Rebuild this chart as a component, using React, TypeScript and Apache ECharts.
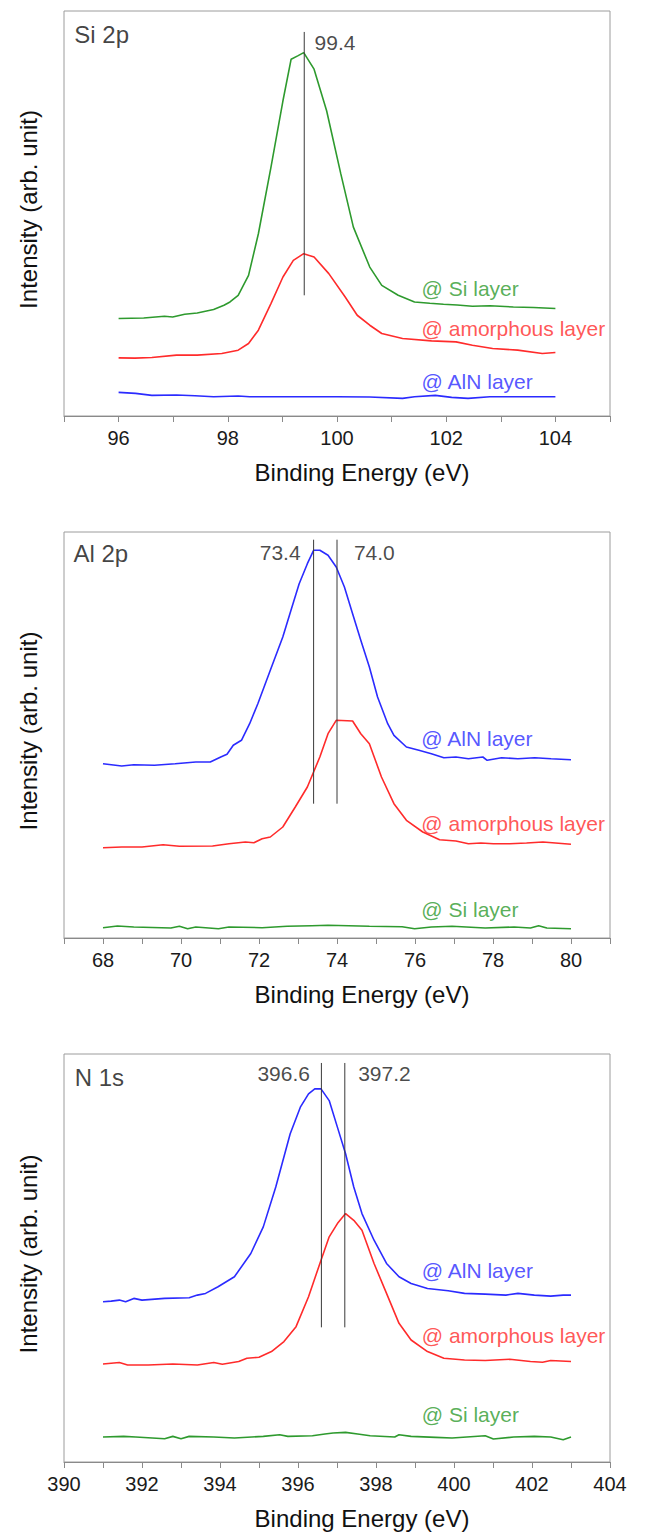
import React, { useEffect, useRef } from "react";
import * as echarts from "echarts";

// ---------- Panel 1: Si 2p (binding energy eV, intensity arb.) ----------
const si2pSiLayer: [number, number][] = [
  [96.0, 97.7], [96.46, 98.3], [96.84, 100], [96.99, 99.3], [97.21, 102], [97.44, 103.3],
  [97.74, 106.7], [97.93, 111], [98.04, 114.3], [98.19, 121], [98.38, 141], [98.56, 182.7],
  [98.79, 249.3], [99.01, 316], [99.16, 357.7], [99.28, 361], [99.39, 364.3], [99.58, 347.7],
  [99.81, 306], [100.07, 242.7], [100.3, 189.3], [100.6, 149.3], [100.82, 131], [101.12, 121],
  [101.42, 114.3], [101.7, 113], [101.95, 112], [102.2, 111.3], [102.48, 110], [102.8, 110.5],
  [103.23, 109.3], [103.6, 108.7], [104.0, 107.7],
];
const si2pAmorphous: [number, number][] = [
  [96.0, 58.3], [96.3, 58], [96.61, 58.7], [97.06, 61], [97.44, 61], [97.89, 62.7], [98.19, 66],
  [98.38, 72.7], [98.56, 86], [98.79, 112.7], [99.01, 139.3], [99.2, 156], [99.39, 162.7],
  [99.58, 159.3], [99.85, 142.7], [100.15, 119.3], [100.37, 101], [100.6, 91], [100.82, 82.7],
  [101.2, 77.7], [101.73, 75.3], [102.18, 74.3], [102.48, 71], [102.85, 67.7], [103.31, 66],
  [103.76, 62.7], [104.0, 63.7],
];
const si2pAlN: [number, number][] = [
  [96.0, 23.7], [96.31, 22.7], [96.61, 20.7], [97.06, 21], [97.4, 20.3], [97.74, 19.3], [98.19, 20],
  [98.4, 19.3], [98.64, 19.3], [99.39, 19.3], [100.0, 19.3], [100.6, 19], [101.2, 17.7],
  [101.42, 19.3], [101.8, 20.7], [102.1, 18.7], [102.4, 17.7], [102.8, 19.3], [103.23, 19.3],
  [104.0, 19.3],
];
const si2pPeaks = [99.4];

// ---------- Panel 2: Al 2p ----------
const al2pAlN: [number, number][] = [
  [68.0, 174.3], [68.48, 172], [68.79, 173.3], [69.32, 172.7], [69.85, 174.3], [70.38, 176],
  [70.75, 176], [71.02, 181], [71.18, 183.7], [71.34, 192.7], [71.55, 197.7], [71.76, 214.3],
  [71.97, 234.3], [72.29, 267.7], [72.61, 301], [72.82, 327.7], [73.03, 354.3], [73.24, 374.3],
  [73.4, 387.7], [73.56, 387.7], [73.77, 382.7], [73.98, 371], [74.19, 351], [74.4, 324.3],
  [74.61, 297.7], [74.83, 271], [75.04, 241], [75.3, 214.3], [75.46, 202.7], [75.78, 191],
  [76.1, 187.7], [76.42, 184.3], [76.74, 180.3], [77.05, 181], [77.37, 179.3], [77.74, 181],
  [77.85, 177.7], [78.22, 180.3], [78.64, 179.3], [79.07, 180.3], [79.49, 179.3], [80.0, 178.3],
];
const al2pAmorphous: [number, number][] = [
  [68.0, 90.3], [68.48, 91], [69.0, 91], [69.54, 93.3], [69.96, 91.7], [70.81, 92], [71.23, 94.3],
  [71.65, 96], [71.87, 95.3], [72.08, 99.3], [72.29, 101], [72.61, 111], [72.93, 131],
  [73.24, 151], [73.56, 181], [73.77, 204.3], [73.98, 217.7], [74.4, 217], [74.61, 204.3],
  [74.83, 194.3], [75.14, 161], [75.46, 134.3], [75.78, 117.7], [76.2, 106], [76.63, 98.3],
  [77.05, 97], [77.37, 94.3], [77.69, 95], [78.01, 94.3], [78.43, 94.3], [78.86, 95],
  [79.28, 96], [80.0, 93.7],
];
const al2pSiLayer: [number, number][] = [
  [68.0, 10.3], [68.37, 12], [68.79, 11], [69.74, 10], [69.96, 11.7], [70.17, 9.3], [70.38, 11],
  [70.96, 9.3], [71.23, 11], [72.08, 10.3], [72.72, 11.7], [73.35, 12.3], [73.77, 12.7],
  [74.83, 11.7], [75.67, 11.3], [75.99, 9.3], [76.42, 11], [76.95, 11.7], [77.8, 10],
  [78.54, 11], [78.96, 10], [79.17, 12.3], [79.38, 10], [80.0, 9.3],
];
const al2pPeaks = [73.4, 74.0];

// ---------- Panel 3: N 1s ----------
const n1sAlN: [number, number][] = [
  [391.0, 160.7], [391.21, 161.3], [391.42, 162.3], [391.58, 160.7], [391.79, 164], [392.0, 162.3],
  [392.58, 164], [393.21, 164.7], [393.42, 167.3], [393.63, 169], [393.95, 175.7], [394.37, 185.7],
  [394.79, 209], [395.11, 235.7], [395.43, 275.7], [395.8, 329], [396.06, 355.7], [396.27, 369],
  [396.43, 374], [396.59, 374], [396.8, 362.3], [397.01, 335.7], [397.22, 309], [397.43, 275.7],
  [397.64, 249], [397.95, 222.3], [398.27, 199], [398.59, 185.7], [398.9, 179], [399.32, 174],
  [399.85, 171.7], [400.27, 169], [400.8, 168.3], [401.33, 167.3], [401.64, 169], [402.06, 167.3],
  [402.48, 166.3], [402.8, 167.3], [403.0, 167.3],
];
const n1sAmorphous: [number, number][] = [
  [391.0, 98.3], [391.42, 99.7], [391.63, 97.3], [392.16, 97.3], [392.79, 98.3], [393.42, 97.3],
  [393.84, 99.7], [394.06, 98], [394.48, 100.7], [394.69, 104], [395.0, 105], [395.32, 110.7],
  [395.64, 120.7], [395.95, 135.7], [396.27, 165.7], [396.59, 202.3], [396.8, 225.7],
  [397.01, 239], [397.22, 249], [397.43, 242.3], [397.64, 232.3], [397.95, 199], [398.27, 169],
  [398.59, 139], [398.9, 122.3], [399.32, 110.7], [399.74, 104], [400.27, 102.3], [400.8, 101.7],
  [401.43, 103], [401.96, 100.7], [402.27, 100], [402.48, 101.7], [403.0, 100.7],
];
const n1sSiLayer: [number, number][] = [
  [391.0, 25], [391.53, 25.7], [391.84, 25], [392.58, 23.3], [392.79, 25.7], [393.0, 23.3],
  [393.21, 25.7], [393.84, 25], [394.37, 24], [395.11, 25.7], [395.53, 27.3], [395.74, 25.7],
  [396.37, 26.3], [396.69, 28], [396.9, 29], [397.22, 29.7], [397.53, 28], [397.85, 26.3],
  [398.48, 25], [398.59, 27.3], [398.9, 25.7], [399.53, 24.7], [399.95, 24], [400.8, 26.3],
  [401.01, 23], [401.53, 25], [402.06, 25.7], [402.48, 25], [402.8, 22.3], [403.0, 25],
];
const n1sPeaks = [396.6, 397.2];

// tick label values (every 2 eV) per panel
const si2pTickLabels = [96, 98, 100, 102, 104];
const al2pTickLabels = [68, 70, 72, 74, 76, 78, 80];
const n1sTickLabels = [390, 392, 394, 396, 398, 400, 402, 404];

const FONT = "'Liberation Sans', Arial, Helvetica, sans-serif";
const GREEN = "#2e9a2e";
const RED = "#ff2b2b";
const BLUE = "#2b2bff";

type Annot = { x: number; y: number; text: string; color: string; size: number; side: "left" | "right" };

const panels = [
  {
    top: 11, height: 405, min: 95, max: 105, ymax: 406, ticks: si2pTickLabels,
    series: [
      { data: si2pSiLayer, color: GREEN },
      { data: si2pAmorphous, color: RED },
      { data: si2pAlN, color: BLUE },
    ],
    peaks: si2pPeaks, peakSpan: [121, 385],
    annots: [
      { x: 95.18, y: 382.7, text: "Si 2p", color: "#111", size: 24, side: "right" },
      { x: 99.58, y: 374.3, text: "99.4", color: "#1a1a1a", size: 21, side: "right" },
      { x: 101.54, y: 127.7, text: "@ Si layer", color: GREEN, size: 21, side: "right" },
      { x: 101.54, y: 87.7, text: "@ amorphous layer", color: RED, size: 21, side: "right" },
      { x: 101.54, y: 34.3, text: "@ AlN layer", color: BLUE, size: 21, side: "right" },
    ] as Annot[],
  },
  {
    top: 532, height: 406, min: 67, max: 81, ymax: 406, ticks: al2pTickLabels,
    series: [
      { data: al2pAlN, color: BLUE },
      { data: al2pAmorphous, color: RED },
      { data: al2pSiLayer, color: GREEN },
    ],
    peaks: al2pPeaks, peakSpan: [134.3, 398.3],
    annots: [
      { x: 67.23, y: 384.3, text: "Al 2p", color: "#111", size: 24, side: "right" },
      { x: 73.08, y: 386, text: "73.4", color: "#1a1a1a", size: 21, side: "left" },
      { x: 74.42, y: 386, text: "74.0", color: "#1a1a1a", size: 21, side: "right" },
      { x: 76.15, y: 199.3, text: "@ AlN layer", color: BLUE, size: 21, side: "right" },
      { x: 76.15, y: 115, text: "@ amorphous layer", color: RED, size: 21, side: "right" },
      { x: 76.15, y: 28.3, text: "@ Si layer", color: GREEN, size: 21, side: "right" },
    ] as Annot[],
  },
  {
    top: 1054, height: 408, min: 390, max: 404, ymax: 409, ticks: n1sTickLabels,
    series: [
      { data: n1sAlN, color: BLUE },
      { data: n1sAmorphous, color: RED },
      { data: n1sSiLayer, color: GREEN },
    ],
    peaks: n1sPeaks, peakSpan: [135, 400],
    annots: [
      { x: 390.26, y: 385.7, text: "N 1s", color: "#111", size: 24, side: "right" },
      { x: 396.32, y: 389, text: "396.6", color: "#1a1a1a", size: 21, side: "left" },
      { x: 397.53, y: 389, text: "397.2", color: "#1a1a1a", size: 21, side: "right" },
      { x: 399.16, y: 192.3, text: "@ AlN layer", color: BLUE, size: 21, side: "right" },
      { x: 399.16, y: 127.3, text: "@ amorphous layer", color: RED, size: 21, side: "right" },
      { x: 399.16, y: 47.3, text: "@ Si layer", color: GREEN, size: 21, side: "right" },
    ] as Annot[],
  },
];

export default function App() {
  const ref = useRef<HTMLDivElement>(null);
  useEffect(() => {
    document.body.style.margin = "0";
    if (!ref.current) return;
    const chart = echarts.init(ref.current, undefined, { renderer: "svg" });

    const grid: any[] = [];
    const xAxis: any[] = [];
    const yAxis: any[] = [];
    const series: any[] = [];
    const graphic: any[] = [];

    panels.forEach((p, i) => {
      grid.push({
        left: 64, right: 36, top: p.top, height: p.height,
        show: true, borderColor: "#9c9c9c", borderWidth: 1, backgroundColor: "transparent",
      });
      xAxis.push({
        type: "value", gridIndex: i, min: p.min, max: p.max, interval: 1,
        axisLine: { show: true, onZero: false, lineStyle: { color: "#8a8a8a", width: 1 } },
        axisTick: { show: true, length: 6, lineStyle: { color: "#8a8a8a", width: 1 } },
        splitLine: { show: false },
        axisLabel: {
          fontSize: 20, color: "#1a1a1a", fontFamily: FONT, margin: 12,
          showMinLabel: true, showMaxLabel: true,
          formatter: (v: number) => (p.ticks.indexOf(v) >= 0 ? String(v) : ""),
        },
      });
      yAxis.push({ type: "value", gridIndex: i, min: 0, max: p.ymax, show: false });

      p.series.forEach((s) => {
        series.push({
          type: "line", xAxisIndex: i, yAxisIndex: i, data: s.data, symbol: "none",
          lineStyle: { color: s.color, width: 1.6 }, itemStyle: { color: s.color },
          silent: true,
        });
      });
      p.peaks.forEach((pk) => {
        series.push({
          type: "line", xAxisIndex: i, yAxisIndex: i,
          data: [[pk, p.peakSpan[0]], [pk, p.peakSpan[1]]], symbol: "none",
          lineStyle: { color: "#3a3a3a", width: 1 }, silent: true,
        });
      });
      series.push({
        type: "scatter", xAxisIndex: i, yAxisIndex: i, symbolSize: 1, silent: true,
        itemStyle: { color: "rgba(0,0,0,0)" },
        data: p.annots.map((a) => ({
          value: [a.x, a.y],
          label: {
            show: true, formatter: a.text, position: a.side, distance: 0,
            color: a.color, fontSize: a.size, fontFamily: FONT,
          },
        })),
      });

      const bottom = p.top + p.height;
      graphic.push({
        type: "text", x: 362, y: bottom + 56,
        style: {
          text: "Binding Energy (eV)", fontSize: 24, fontFamily: FONT, fill: "#111",
          align: "center", verticalAlign: "middle",
        },
      });
      graphic.push({
        type: "text", x: 28, y: p.top + p.height / 2 - 4, rotation: Math.PI / 2,
        style: {
          text: "Intensity (arb. unit)", fontSize: 24, fontFamily: FONT, fill: "#111",
          align: "center", verticalAlign: "middle",
        },
      });
    });

    chart.setOption({
      animation: false,
      backgroundColor: "#ffffff",
      grid, xAxis, yAxis, series, graphic,
    });
    return () => chart.dispose();
  }, []);
  return <div ref={ref} style={{ width: 646, height: 1532 }} />;
}
